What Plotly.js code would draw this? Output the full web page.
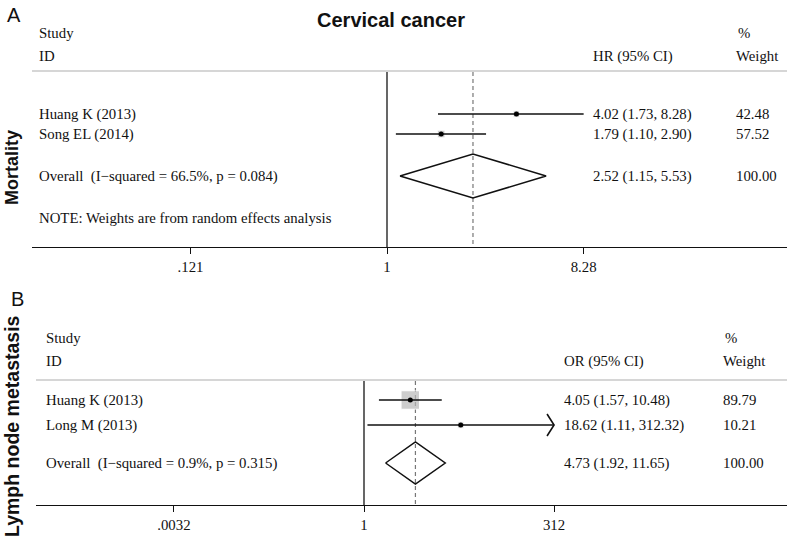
<!DOCTYPE html>
<html><head><meta charset="utf-8">
<script src="https://cdn.plot.ly/plotly-3.0.1.min.js"></script>
<style>body{margin:0;background:#fff}</style></head>
<body><div id="chart" style="width:787px;height:551px"></div>
<script>
// ---------- Data: Panel A (Mortality, HR) ----------
const studiesA = ["Huang K (2013)", "Song EL (2014)"];
const estA = [4.02, 1.79];
const lowA = [1.73, 1.10];
const highA = [8.28, 2.90];
const weightA = [42.48, 57.52];
const overallA = [2.52, 1.15, 5.53];          // est, low, high
const overallLabelA = "Overall  (I\u2212squared = 66.5%, p = 0.084)";
const noteA = "NOTE: Weights are from random effects analysis";
const tickValsA = [0.121, 1, 8.28];
const tickTextA = [".121", "1", "8.28"];

// ---------- Data: Panel B (Lymph node metastasis, OR) ----------
const studiesB = ["Huang K (2013)", "Long M (2013)"];
const estB = [4.05, 18.62];
const lowB = [1.57, 1.11];
const highB = [10.48, 312.32];
const weightB = [89.79, 10.21];
const overallB = [4.73, 1.92, 11.65];
const overallLabelB = "Overall  (I\u2212squared = 0.9%, p = 0.315)";
const tickValsB = [0.0032, 1, 312];
const tickTextB = [".0032", "1", "312"];

// ---------- Layout constants (pixel rows from top) ----------
const W = 787, H = 551;
const rowsA = {study: 33, id: 56, line: 71, items: [114, 134], overall: 176, note: 218, axis: 247, dh: 22};
const rowsB = {study: 338, id: 361, line: 380, items: [400, 425], overall: 463, axis: 505, top: 270, dh: 21};
const colsA = {left: 37, ci: 591, wt: 734, axisLeft: 32};
const colsB = {left: 44, ci: 562, wt: 721, axisLeft: 36};
const boxScaleA = 1.0, boxScaleB = 1.95;

const serif = "Liberation Serif, Times New Roman, serif";
const sans = "Liberation Sans, Arial, sans-serif";
const fmt = v => v.toFixed(2);

function panel(xa, ya, rows, studies, est, low, high, weight, overall, boxScale, clipMax) {
  const tr = [];
  const base = {xaxis: xa, yaxis: ya, hoverinfo: "skip", showlegend: false};
  tr.push(Object.assign({x: [1, 1], y: [rows.line + 1, rows.axis], mode: "lines",
    line: {color: "#000", width: 1.2}}, base));
  tr.push(Object.assign({x: [overall[0], overall[0]], y: [rows.line + 1, rows.axis], mode: "lines",
    line: {color: "#777", width: 1.2, dash: "4px,3px"}}, base));
  tr.push(Object.assign({x: est, y: rows.items, mode: "markers",
    marker: {symbol: "square", color: "#b8b8b8", size: weight.map(w => boxScale * Math.sqrt(w))}}, base));
  studies.forEach((s, i) => {
    const hi = clipMax ? Math.min(high[i], clipMax) : high[i];
    tr.push(Object.assign({x: [low[i], hi], y: [rows.items[i], rows.items[i]], mode: "lines",
      line: {color: "#111", width: 1.6}}, base));
    if (clipMax && high[i] > clipMax) {
      const back = hi / Math.pow(10, 0.092);
      tr.push(Object.assign({x: [back, hi, back], y: [rows.items[i] - 11, rows.items[i], rows.items[i] + 11],
        mode: "lines", line: {color: "#111", width: 1.6}}, base));
    }
  });
  tr.push(Object.assign({x: est, y: rows.items, mode: "markers",
    marker: {symbol: "circle", color: "#000", size: 5}}, base));
  const r = rows.overall, h = rows.dh;
  tr.push(Object.assign({x: [overall[1], overall[0], overall[2], overall[0], overall[1]],
    y: [r, r - h, r, r + h, r], mode: "lines", line: {color: "#111", width: 1.5}}, base));
  return tr;
}

const traces = []
  .concat(panel("x", "y", rowsA, studiesA, estA, lowA, highA, weightA, overallA, boxScaleA, null))
  .concat(panel("x2", "y2", rowsB, studiesB, estB, lowB, highB, weightB, overallB, boxScaleB, tickValsB[2]));

const ann = [];
function txt(x, y, yref, text, opts) {
  ann.push(Object.assign({x: x / W, xref: "paper", y: y, yref: yref, text: text, showarrow: false,
    xanchor: "left", yanchor: "middle", font: {family: serif, size: 14.8, color: "#111"}}, opts || {}));
}
txt(colsA.left, rowsA.study, "y", "Study");
txt(colsA.left, rowsA.id, "y", "ID");
txt(colsA.ci, rowsA.id, "y", "HR (95% CI)");
txt(colsA.wt + 2, rowsA.study, "y", "%");
txt(colsA.wt, rowsA.id, "y", "Weight");
studiesA.forEach((s, i) => {
  txt(colsA.left, rowsA.items[i], "y", s);
  txt(colsA.ci, rowsA.items[i], "y", `${fmt(estA[i])} (${fmt(lowA[i])}, ${fmt(highA[i])})`);
  txt(colsA.wt, rowsA.items[i], "y", fmt(weightA[i]));
});
txt(colsA.left, rowsA.overall, "y", overallLabelA);
txt(colsA.ci, rowsA.overall, "y", `${fmt(overallA[0])} (${fmt(overallA[1])}, ${fmt(overallA[2])})`);
txt(colsA.wt, rowsA.overall, "y", "100.00");
txt(colsA.left, rowsA.note, "y", noteA);
txt(colsB.left, rowsB.study, "y2", "Study");
txt(colsB.left, rowsB.id, "y2", "ID");
txt(colsB.ci, rowsB.id, "y2", "OR (95% CI)");
txt(colsB.wt + 2, rowsB.study, "y2", "%");
txt(colsB.wt, rowsB.id, "y2", "Weight");
studiesB.forEach((s, i) => {
  txt(colsB.left, rowsB.items[i], "y2", s);
  txt(colsB.ci, rowsB.items[i], "y2", `${fmt(estB[i])} (${fmt(lowB[i])}, ${fmt(highB[i])})`);
  txt(colsB.wt, rowsB.items[i], "y2", fmt(weightB[i]));
});
txt(colsB.left, rowsB.overall, "y2", overallLabelB);
txt(colsB.ci, rowsB.overall, "y2", `${fmt(overallB[0])} (${fmt(overallB[1])}, ${fmt(overallB[2])})`);
txt(colsB.wt, rowsB.overall, "y2", "100.00");

ann.push({x: 14 / W, xref: "paper", y: 1 - 15 / H, yref: "paper", text: "A", showarrow: false,
  xanchor: "center", yanchor: "middle", font: {family: sans, size: 20, color: "#111"}});
ann.push({x: 17 / W, xref: "paper", y: 1 - 299 / H, yref: "paper", text: "B", showarrow: false,
  xanchor: "center", yanchor: "middle", font: {family: sans, size: 20, color: "#111"}});
ann.push({x: 12 / W, xref: "paper", y: 1 - 168 / H, yref: "paper", text: "<b>Mortality</b>", showarrow: false,
  textangle: -90, xanchor: "center", yanchor: "middle", font: {family: sans, size: 18, color: "#111"}});
ann.push({x: 12 / W, xref: "paper", y: 1 - 426 / H, yref: "paper", text: "<b>Lymph node metastasis</b>", showarrow: false,
  textangle: -90, xanchor: "center", yanchor: "middle", font: {family: sans, size: 19.5, color: "#111"}});

const shapes = [
  {type: "line", xref: "paper", yref: "y", x0: colsA.axisLeft / W, x1: 1, y0: rowsA.line, y1: rowsA.line,
   line: {color: "#c8c8c8", width: 1.5}},
  {type: "line", xref: "paper", yref: "y2", x0: colsB.axisLeft / W, x1: 1, y0: rowsB.line, y1: rowsB.line,
   line: {color: "#c8c8c8", width: 1.5}}
];

function xax(domLeft, oneAt, pxPerDec, tv, tt, anchor) {
  return {type: "log", domain: [domLeft / W, 1],
    range: [(domLeft - oneAt) / pxPerDec, (W - oneAt) / pxPerDec],
    anchor: anchor, showline: true, linecolor: "#111", linewidth: 1.2, mirror: false,
    ticks: "outside", ticklen: 6, tickwidth: 1, tickcolor: "#111",
    tickvals: tv, ticktext: tt, showgrid: false, zeroline: false,
    tickfont: {family: serif, size: 14.8, color: "#111"}, fixedrange: true};
}

const layout = {
  width: W, height: H, margin: {l: 0, r: 0, t: 0, b: 0},
  paper_bgcolor: "#fff", plot_bgcolor: "rgba(0,0,0,0)", showlegend: false, hovermode: false,
  title: {text: "<b>Cervical cancer</b>", x: 391 / W, xanchor: "center", y: 1 - 20 / H, yanchor: "middle",
    font: {family: sans, size: 20, color: "#111"}},
  xaxis: xax(colsA.axisLeft, 387, 214.2, tickValsA, tickTextA, "y"),
  yaxis: {domain: [1 - rowsA.axis / H, 1], range: [rowsA.axis, 0], visible: false, fixedrange: true},
  xaxis2: xax(colsB.axisLeft, 364, 76.2, tickValsB, tickTextB, "y2"),
  yaxis2: {domain: [1 - rowsB.axis / H, 1 - rowsB.top / H], range: [rowsB.axis, rowsB.top], visible: false, fixedrange: true},
  annotations: ann, shapes: shapes
};

Plotly.newPlot("chart", traces, layout, {displayModeBar: false, staticPlot: true});
</script></body></html>
